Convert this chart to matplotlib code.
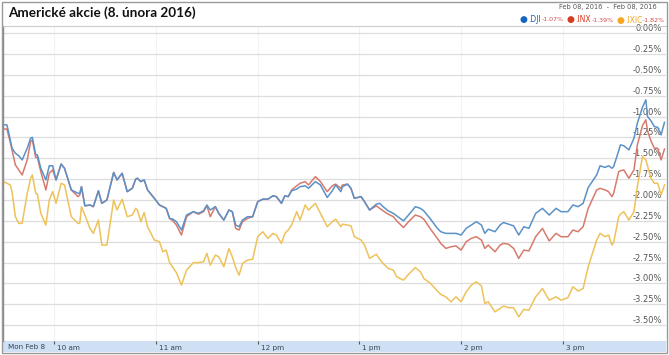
import matplotlib
matplotlib.use("Agg")
import matplotlib.pyplot as plt
from matplotlib.patches import Rectangle
from matplotlib.transforms import ScaledTranslation

# minutes after 9:30 (8 Feb 2016)
minutes = [0, 2, 4, 5, 7, 9, 11, 14, 16, 17,
           19, 20, 22, 25, 27, 29, 31, 34, 36, 40,
           44, 45, 46, 48, 51, 53, 56, 58, 61, 65,
           67, 70, 73, 76, 78, 79, 81, 83, 85, 89,
           92, 94, 96, 98, 100, 102, 105, 108, 112, 115,
           118, 120, 122, 125, 127, 130, 133, 135, 137, 139,
           141, 144, 147, 150, 153, 156, 159, 161, 164, 166,
           168, 170, 173, 175, 178, 180, 184, 187, 191, 194,
           196, 199, 200, 203, 205, 207, 211, 213, 216, 220,
           222, 224, 227, 230, 232, 236, 239, 243, 246, 248,
           252, 256, 258, 261, 264, 267, 270, 273, 276, 279,
           282, 284, 286, 290, 293, 295, 298, 301, 304, 307,
           310, 314, 318, 322, 326, 329, 333, 336, 339, 342,
           345, 350, 352, 355, 357, 359, 360, 363, 364, 366,
           369, 372, 374, 377, 379, 380, 382, 384, 386, 388,
           390]

dji = [-1.10, -1.10, -1.28, -1.38, -1.44, -1.47, -1.52, -1.38, -1.26, -1.25,
       -1.46, -1.46, -1.62, -1.76, -1.59, -1.59, -1.76, -1.57, -1.62, -1.88,
       -1.92, -1.92, -1.84, -2.07, -2.06, -2.08, -1.89, -2.04, -2.00, -1.67,
       -1.76, -1.68, -1.90, -1.86, -1.75, -1.74, -1.78, -1.76, -1.88, -1.98,
       -2.06, -2.08, -2.10, -2.22, -2.23, -2.26, -2.36, -2.18, -2.14, -2.16,
       -2.13, -2.06, -2.12, -2.08, -2.16, -2.24, -2.12, -2.14, -2.30, -2.32,
       -2.24, -2.20, -2.20, -2.02, -1.99, -1.99, -1.95, -1.96, -2.04, -1.95,
       -1.96, -1.89, -1.87, -1.84, -1.83, -1.86, -1.78, -1.82, -1.97, -1.89,
       -1.82, -1.90, -1.84, -1.81, -1.86, -1.98, -1.96, -2.02, -2.12, -2.05,
       -2.04, -2.08, -2.13, -2.16, -2.19, -2.25, -2.18, -2.08, -2.10, -2.13,
       -2.23, -2.34, -2.38, -2.40, -2.40, -2.40, -2.42, -2.34, -2.30, -2.26,
       -2.30, -2.40, -2.35, -2.38, -2.30, -2.27, -2.29, -2.31, -2.42, -2.32,
       -2.34, -2.16, -2.10, -2.18, -2.10, -2.14, -2.14, -2.06, -2.08, -2.04,
       -1.85, -1.70, -1.59, -1.61, -1.59, -1.62, -1.60, -1.41, -1.34, -1.35,
       -1.40, -1.26, -1.08, -0.89, -0.80, -1.00, -1.05, -1.12, -1.13, -1.22,
       -1.07]

inx = [-1.15, -1.15, -1.31, -1.40, -1.58, -1.64, -1.70, -1.52, -1.30, -1.28,
       -1.49, -1.49, -1.66, -1.88, -1.68, -1.64, -1.76, -1.57, -1.62, -1.88,
       -1.96, -1.94, -1.84, -2.07, -2.06, -2.08, -1.89, -2.04, -2.00, -1.67,
       -1.76, -1.68, -1.90, -1.86, -1.75, -1.74, -1.78, -1.76, -1.88, -1.98,
       -2.06, -2.08, -2.10, -2.22, -2.25, -2.30, -2.42, -2.20, -2.14, -2.17,
       -2.14, -2.07, -2.20, -2.08, -2.16, -2.24, -2.12, -2.14, -2.34, -2.36,
       -2.26, -2.22, -2.20, -2.02, -1.99, -1.99, -1.95, -1.96, -2.04, -1.95,
       -1.96, -1.88, -1.83, -1.80, -1.78, -1.82, -1.72, -1.78, -1.90, -1.83,
       -1.81, -1.86, -1.82, -1.81, -1.86, -1.98, -1.96, -2.02, -2.12, -2.07,
       -2.10, -2.13, -2.17, -2.20, -2.25, -2.33, -2.26, -2.18, -2.20, -2.23,
       -2.35, -2.46, -2.52, -2.58, -2.56, -2.55, -2.60, -2.50, -2.46, -2.44,
       -2.48, -2.58, -2.54, -2.62, -2.54, -2.52, -2.53, -2.58, -2.70, -2.60,
       -2.61, -2.44, -2.34, -2.49, -2.40, -2.44, -2.44, -2.36, -2.38, -2.32,
       -2.10, -1.88, -1.86, -1.88, -1.90, -1.96, -1.92, -1.66, -1.65, -1.64,
       -1.74, -1.64, -1.34, -1.11, -1.04, -1.17, -1.29, -1.38, -1.38, -1.52,
       -1.39]

ixic = [-1.78, -1.80, -1.82, -1.90, -2.20, -2.28, -2.28, -1.92, -1.74, -1.70,
        -1.92, -1.93, -2.16, -2.30, -2.00, -1.90, -2.04, -1.80, -1.82, -2.20,
        -2.28, -2.28, -2.08, -2.18, -2.34, -2.40, -2.24, -2.54, -2.54, -2.00,
        -2.12, -1.99, -2.20, -2.18, -2.10, -2.12, -2.26, -2.15, -2.32, -2.48,
        -2.50, -2.62, -2.60, -2.75, -2.81, -2.87, -3.02, -2.84, -2.75, -2.75,
        -2.74, -2.64, -2.78, -2.66, -2.68, -2.80, -2.58, -2.68, -2.81, -2.90,
        -2.76, -2.72, -2.71, -2.44, -2.38, -2.46, -2.40, -2.42, -2.52, -2.40,
        -2.36, -2.30, -2.14, -2.24, -2.06, -2.12, -2.04, -2.16, -2.32, -2.26,
        -2.23, -2.32, -2.29, -2.30, -2.31, -2.44, -2.48, -2.54, -2.70, -2.65,
        -2.71, -2.76, -2.82, -2.84, -2.92, -2.96, -2.89, -2.81, -2.86, -2.94,
        -3.00, -3.09, -3.13, -3.16, -3.22, -3.16, -3.22, -3.10, -3.02, -2.98,
        -3.03, -3.24, -3.22, -3.34, -3.30, -3.27, -3.29, -3.29, -3.40, -3.31,
        -3.32, -3.16, -3.06, -3.20, -3.16, -3.20, -3.17, -3.04, -3.09, -3.06,
        -2.80, -2.48, -2.40, -2.44, -2.42, -2.54, -2.51, -2.20, -2.17, -2.14,
        -2.24, -2.14, -1.84, -1.48, -1.52, -1.59, -1.74, -1.80, -1.80, -1.94,
        -1.82]

hour_ticks = [30, 90, 150, 210, 270, 330]
hour_labels = ["10 am", "11 am", "12 pm", "1 pm", "2 pm", "3 pm"]
y_ticks = [0, -0.25, -0.5, -0.75, -1.0, -1.25, -1.5, -1.75, -2.0,
           -2.25, -2.5, -2.75, -3.0, -3.25, -3.5]

W, H = 669, 355
fig = plt.figure(figsize=(W / 100, H / 100), dpi=100)
ax = fig.add_axes([3 / W, (H - 341) / H, 663 / W, 315 / H])

ax.plot(minutes, ixic, color="#eec25a", lw=1.1)
ax.plot(minutes, inx, color="#d77a6e", lw=1.1)
ax.plot(minutes, dji, color="#5b91c9", lw=1.1)

ax.set_xlim(-0.3, 390.9)
ax.set_ylim(-3.689, 0.084)

# horizontal grid + labels inside on the right
ax.set_yticks(y_ticks)
ax.set_yticklabels(["%.2f%%" % v for v in y_ticks])
ax.yaxis.tick_right()
ax.tick_params(axis="y", length=0, pad=-3, labelsize=6, labelcolor="#555555")
for lab in ax.get_yticklabels():
    lab.set_ha("right")
    lab.set_va("bottom")
ax.grid(axis="y", color="#dddddd", lw=0.9)

ax.set_xticks(hour_ticks)
ax.set_xticklabels(hour_labels)
ax.grid(axis="x", color="#f2f2f2", lw=0.8)
ax.tick_params(axis="x", direction="out", length=2, width=0.8, color="#555555",
               pad=1.2, labelsize=5.2, labelcolor="#334455")
off = ScaledTranslation(3 / 100, 0, fig.dpi_scale_trans)
for lab in ax.get_xticklabels():
    lab.set_ha("left")
    lab.set_transform(lab.get_transform() + off)

for s in ["top", "right", "bottom"]:
    ax.spines[s].set_visible(False)
ax.spines["left"].set_color("#888888")
ax.spines["left"].set_linewidth(1.0)

# bottom time band
fig.patches.append(Rectangle((3 / W, (H - 352) / H), 663 / W, 11 / H,
                             transform=fig.transFigure, facecolor="#cfe0f5",
                             edgecolor="none", zorder=-1))
fig.text(8 / W, (H - 347) / H, "Mon Feb 8", fontsize=5.2, color="#334455",
         va="center", ha="left")

# header
fig.text(8 / W, (H - 13) / H, "Americké akcie (8. února 2016)", fontsize=9.7,
         fontweight="bold", family="Lato", va="center", ha="left", color="#111111")
fig.text(657 / W, (H - 7.5) / H, "Feb 08, 2016  -  Feb 08, 2016", fontsize=4.8,
         color="#555555", va="center", ha="right")

# legend line: dot, ticker, change -- chained left to right
legend_items = [
    ("#1565c0", ".DJI", "-1.07%"),
    ("#d9391e", ".INX", "-1.39%"),
    ("#f5a623", ".IXIC", "-1.82%"),
]
prev = fig.text(520 / W, (H - 19.3) / H, "", fontsize=5, va="center", ha="left")
first = True
for col, name, pct in legend_items:
    dot = ax.annotate("\u25cf", xy=(1, 0.5), xycoords=prev,
                      xytext=(0 if first else 2.5, 0), textcoords="offset points",
                      color=col, fontsize=6.5, va="center", ha="left",
                      annotation_clip=False)
    first = False
    t1 = ax.annotate(name, xy=(1, 0.5), xycoords=dot, xytext=(0.3, 0),
                     textcoords="offset points", color=col, fontsize=5.5,
                     va="center", ha="left", annotation_clip=False)
    t2 = ax.annotate(pct, xy=(1, 0.5), xycoords=t1, xytext=(0.3, -0.3),
                     textcoords="offset points", color="#d24a4a", fontsize=4.5,
                     va="center", ha="left", annotation_clip=False)
    prev = t2

fig.lines.append(plt.Line2D([2 / W, 667 / W], [(H - 26) / H] * 2,
                            transform=fig.transFigure, color="#cccccc", lw=0.8))
fig.patches.append(Rectangle((2 / W, 2 / H), 665 / W, 351 / H,
                             transform=fig.transFigure, facecolor="none",
                             edgecolor="#999999", lw=1.0, zorder=5))

fig.savefig("out.png", dpi=100)
